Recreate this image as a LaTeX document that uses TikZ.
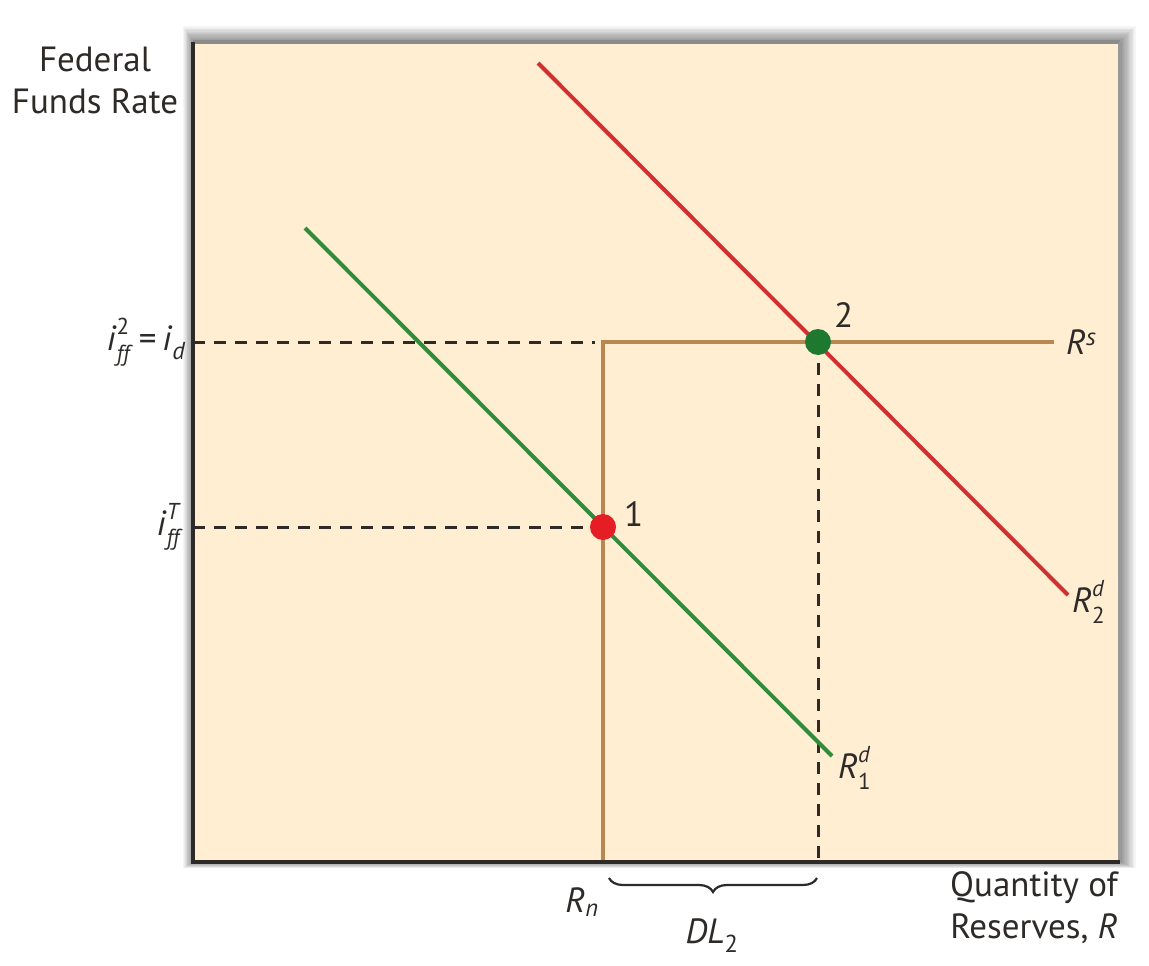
\documentclass[tikz,border=0pt]{standalone}
\usepackage{fontspec}
\setmainfont{PT Sans}
\usetikzlibrary{decorations.pathreplacing}
\definecolor{panel}{RGB}{255,238,210}
\definecolor{supply}{RGB}{184,136,80}
\definecolor{dgreen}{RGB}{48,140,58}
\definecolor{dred}{RGB}{210,48,48}
\definecolor{dotred}{RGB}{228,30,36}
\definecolor{dotgreen}{RGB}{30,120,48}
\definecolor{ink}{RGB}{45,42,40}
\newcommand{\ssz}{\fontsize{23}{23}\selectfont}
\newcommand{\supsub}[2]{\rlap{\raisebox{0.46em}{\ssz #1}}\raisebox{-0.3em}{\ssz #2}}
\begin{document}
\begin{tikzpicture}[x=1pt,y=-1pt,
  lbl/.style={font=\fontsize{35}{42}\selectfont, inner sep=0pt, text=ink},
  dashline/.style={ink, line width=3pt, dash pattern=on 12pt off 9pt},
  curve/.style={line width=4pt},
  eqdot/.style={circle, inner sep=0pt, minimum size=26pt}]
\useasboundingbox (0,0) rectangle (1149,966);
\fill[white] (0,0) rectangle (1149,966);
% shadow
\foreach \k in {1,...,12}{
  \fill[black, opacity=0.04] (193-\k*0.8,42-\k*1.3) rectangle (1120+\k*1.3,862+\k*0.5);
}
\fill[black!45] (193,40) rectangle (1120,44);
\fill[black!40] (1118,42) rectangle (1122,862);
\fill[panel] (193,44) rectangle (1118,862);
% dashed guides
\coordinate (yA) at (193,342);
\coordinate (yB) at (193,527);
\coordinate (xC) at (818,862);
\coordinate (kink) at (603,342);
\coordinate (rsend) at (1054,342);
\coordinate (rnbot) at (603,862);
\draw[dashline] (yA) -- (595,342);
\draw[dashline] (yB) -- (603,527);
\draw[dashline] (818,342) -- (xC);
% supply
\draw[supply, curve, line join=miter] (rnbot) -- (kink) -- (rsend);
% demand curves
\coordinate (g1) at (305,228);
\coordinate (g2) at (832,756);
\coordinate (r1) at (538,63);
\coordinate (r2) at (1068,595);
\draw[dgreen, curve] (g1) -- (g2);
\draw[dred, curve] (r1) -- (r2);
% dots
\node[eqdot, fill=dotred] (p1) at (603,527) {};
\node[eqdot, fill=dotgreen] (p2) at (818,342) {};
\node[lbl, anchor=south west] (n1) at (624,527) {1};
\node[lbl, anchor=south west] (n2) at (834,328) {2};
% axes
\draw[ink, line width=4pt] (193,42) -- (193,862) -- (1120,862);
% labels
\node[lbl, align=center] (ylab) at (95,80) {Federal\\Funds Rate};
\node[lbl, align=center] (xlab) at (1034,908) {Quantity of\\Reserves, \textit{R}};
\node[lbl, anchor=east] (iff2) at (186,342) {\textit{i}\supsub{2}{\textit{ff}}\,=\,\textit{i}\textsubscript{\textit{d}}};
\node[lbl, anchor=east] (iffT) at (183,527) {\textit{i}\supsub{\textit{T}}{\textit{ff}}};
\node[lbl, anchor=west] (rs) at (1066,342) {\textit{R}\textsuperscript{\textit{s}}};
\node[lbl, anchor=west] (rd2) at (1072,602) {\textit{R}\supsub{\textit{d}}{2}};
\node[lbl, anchor=west] (rd1) at (838,768) {\textit{R}\supsub{\textit{d}}{1}};
\node[lbl] (rn) at (582,902) {\textit{R}\textsubscript{\textit{n}}};
\draw[ink, line width=2.2pt, decorate, decoration={brace, mirror, amplitude=14pt}] (609,878) -- (817,878);
\node[lbl] (dl) at (712,936) {\textit{DL}\textsubscript{2}};
\end{tikzpicture}
\end{document}
